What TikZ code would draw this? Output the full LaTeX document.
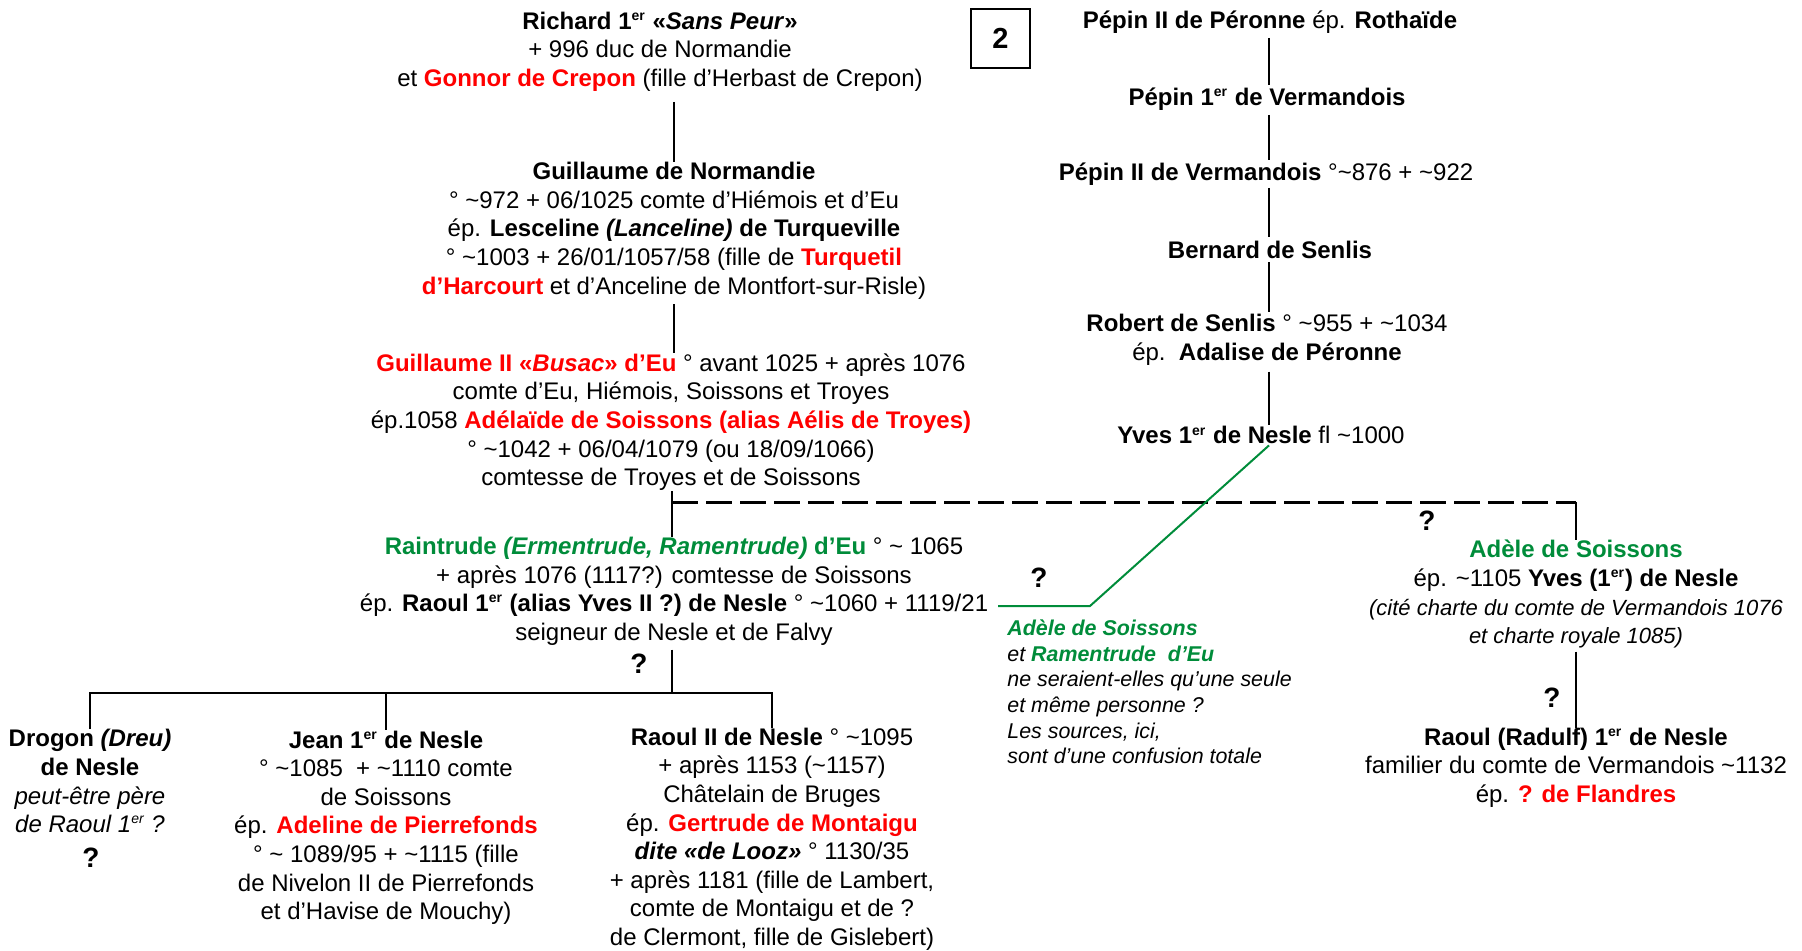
\documentclass[tikz,border=0pt]{standalone}
\usepackage{fontspec}
\setmainfont{Liberation Sans}
\usepackage{xcolor}
\usepackage{tikz}

\definecolor{nred}{RGB}{255,0,0}
\definecolor{ngreen}{RGB}{0,140,58}
\newcommand{\tld}{\textasciitilde}
\newcommand{\ier}{\textsuperscript{\fontsize{7}{7}\selectfont er}}

\tikzset{
  person/.style={inner sep=0pt, align=center, yshift=-1.1pt, font=\fontsize{12}{14.3}\selectfont},
  link/.style={line width=1.3pt},
  guess/.style={line width=1.5pt, dash pattern=on 13pt off 4pt},
  qmark/.style={inner sep=0pt, font=\bfseries\fontsize{14}{16}\selectfont},
  hint/.style={inner sep=0pt, align=left, font=\itshape\fontsize{10.7}{12.8}\selectfont}
}

\begin{document}
\begin{tikzpicture}[x=0.5pt,y=-0.5pt]
\useasboundingbox (0,0) rectangle (1802,951);

\node[draw, line width=1pt, minimum size=29.5pt, inner sep=0pt, font=\bfseries\fontsize{14.5}{16}\selectfont] (num) at (1000.5,38.5) {2};

\node[person] (richard) at (660,49.5) {{\bfseries Richard 1\ier{} «\textit{Sans Peur}»}\\
+ 996 duc de Normandie\\
et {\color{nred}\bfseries Gonnor de Crepon} (fille d’Herbast de Crepon)};

\node[person] (guill) at (674,228.5) {{\bfseries Guillaume de Normandie}\\
° \tld972 + 06/1025 comte d’Hiémois et d’Eu\\
ép. {\bfseries Lesceline \textit{(Lanceline)} de Turqueville}\\
° \tld1003 + 26/01/1057/58 (fille de {\color{nred}\bfseries Turquetil}\\
{\color{nred}\bfseries d’Harcourt} et d’Anceline de Montfort-sur-Risle)};

\node[person] (guill2) at (671,420) {{\color{nred}\bfseries Guillaume II «\textit{Busac}» d’Eu} ° avant 1025 + après 1076\\
comte d’Eu, Hiémois, Soissons et Troyes\\
ép.1058 {\color{nred}\bfseries Adélaïde de Soissons (alias Aélis de Troyes)}\\
° \tld1042 + 06/04/1079 (ou 18/09/1066)\\
comtesse de Troyes et de Soissons};

\node[person] (raintrude) at (674,589) {{\color{ngreen}\bfseries Raintrude \textit{(Ermentrude, Ramentrude)} d’Eu} ° \tld{} 1065\\
+ après 1076 (1117?) comtesse de Soissons\\
ép. {\bfseries Raoul 1\ier{} (alias Yves II ?) de Nesle} ° \tld1060 + 1119/21\\
seigneur de Nesle et de Falvy};
\node[qmark] (qraintrude) at (639,664) {?};

\node[person] (drogon) at (90,779) {{\bfseries Drogon \textit{(Dreu)}}\\
{\bfseries de Nesle}\\
\textit{peut-être père}\\
\textit{de Raoul 1\ier{} ?}};
\node[qmark] (qdrogon) at (91,858) {?};

\node[person] (jean) at (386,825.5) {{\bfseries Jean 1\ier{} de Nesle}\\
° \tld1085 \ + \tld1110 comte\\
de Soissons\\
ép. {\color{nred}\bfseries Adeline de Pierrefonds}\\
° \tld{} 1089/95 + \tld1115 (fille\\
de Nivelon II de Pierrefonds\\
et d’Havise de Mouchy)};

\node[person] (raoul2) at (772,837) {{\bfseries Raoul II de Nesle} ° \tld1095\\
+ après 1153 (\tld1157)\\
Châtelain de Bruges\\
ép. {\color{nred}\bfseries Gertrude de Montaigu}\\
{\bfseries\itshape dite «de Looz»} ° 1130/35\\
+ après 1181 (fille de Lambert,\\
comte de Montaigu et de ?\\
de Clermont, fille de Gislebert)};

\node[person] (pepinP) at (1270,20) {{\bfseries Pépin II de Péronne} ép. {\bfseries Rothaïde}};
\node[person] (pepin1) at (1267,97) {{\bfseries Pépin 1\ier{} de Vermandois}};
\node[person] (pepin2) at (1266,172) {{\bfseries Pépin II de Vermandois} °\tld876 + \tld922};
\node[person] (bernard) at (1270,248) {{\bfseries Bernard de Senlis}};
\node[person] (robert) at (1267,337.5) {{\bfseries Robert de Senlis} ° \tld955 + \tld1034\\
ép.\ \ {\bfseries Adalise de Péronne}};
\node[person] (yves) at (1261,433) {{\bfseries Yves 1\ier{} de Nesle} fl \tld1000};

\node[person] (adele) at (1576,592) {{\color{ngreen}\bfseries Adèle de Soissons}\\
ép. \tld1105 {\bfseries Yves (1\ier) de Nesle}\\
{\itshape\fontsize{11}{13}\selectfont (cité charte du comte de Vermandois 1076}\\
{\itshape\fontsize{11}{13}\selectfont et charte royale 1085)}};
\node[qmark] (qadele) at (1427,521) {?};

\node[person] (radulf) at (1576,765.5) {{\bfseries Raoul (Radulf) 1\ier{} de Nesle}\\
familier du comte de Vermandois \tld1132\\
ép. {\color{nred}\bfseries ? de Flandres}};
\node[qmark] (qradulf) at (1552,698) {?};

\node[hint, anchor=west] (note) at (1007,692) {{\color{ngreen}\bfseries Adèle de Soissons}\\
et {\color{ngreen}\bfseries Ramentrude\ \ d’Eu}\\
ne seraient-elles qu’une seule\\
et même personne ?\\
Les sources, ici,\\
sont d’une confusion totale};
\node[qmark] (qnote) at (1039,578) {?};

\draw[link] ([yshift=-5pt]richard.south -| guill.north) -- (guill.north);
\draw[link] ([yshift=-2.5pt]guill.south) -- (guill2.north -| guill.south);

\coordinate (split) at (672,502);
\draw[link] (guill2.south -| split) -- (raintrude.north -| split);
\draw[guess] (split) -- (adele.north |- split);
\draw[link] (adele.north |- split) -- (adele.north);

\coordinate (fork) at (672,693);
\draw[link] ([yshift=-2pt]raintrude.south -| fork) -- (fork);
\draw[link] (drogon.north) -- (drogon.north |- fork) -- (raoul2.north |- fork) -- (raoul2.north);
\draw[link] (jean.north |- fork) -- (jean.north);

\coordinate (col) at (1269,0);
\draw[link] ([yshift=-2pt]pepinP.south -| col) -- ([yshift=1.5pt]pepin1.north -| col);
\draw[link] ([yshift=-2pt]pepin1.south -| col) -- ([yshift=1.5pt]pepin2.north -| col);
\draw[link] ([yshift=-1pt]pepin2.south -| col) -- ([yshift=2pt]bernard.north -| col);
\draw[link] ([yshift=-1.5pt]bernard.south -| col) -- ([yshift=1pt]robert.north -| col);
\draw[link] ([yshift=-3pt]robert.south -| col) -- ([yshift=0.5pt]yves.north -| col);

\coordinate (gbend) at (1090,606);
\coordinate (gend) at (998,606);
\draw[ngreen, line width=1pt] ([yshift=-0.5pt]yves.south -| col) -- (gbend) -- (gend);

\draw[link] ([yshift=-1.5pt]adele.south) -- (radulf.north);

\end{tikzpicture}
\end{document}
